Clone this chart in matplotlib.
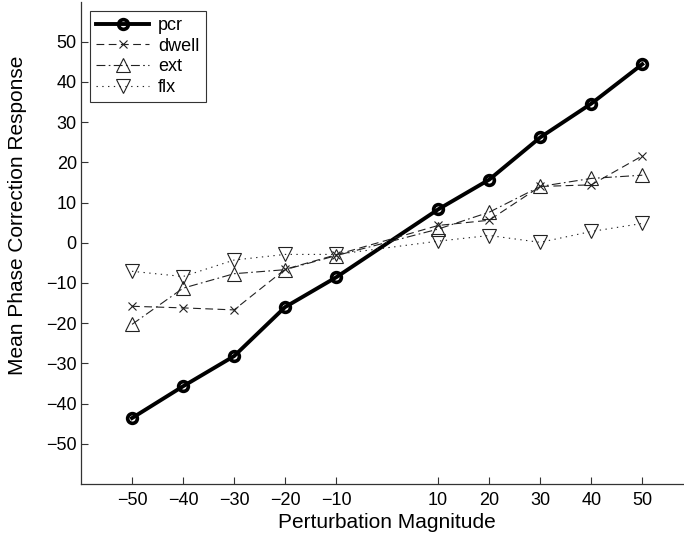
import matplotlib
matplotlib.use('Agg')
import matplotlib.pyplot as plt

plt.rcParams['font.family'] = ['Liberation Sans', 'DejaVu Sans']

# magnitudes de perturbación
magnitudes = [-50, -40, -30, -20, -10, 10, 20, 30, 40, 50]

# respuestas medias por condición
pcr = [-43.6, -35.7, -28.2, -16.0, -8.6, 8.3, 15.7, 26.2, 34.6, 44.4]
dwell = [-15.8, -16.2, -16.7, -6.6, -3.0, 4.3, 5.6, 14.0, 14.4, 21.6]
ext = [-20.3, -11.3, -7.7, -6.7, -3.2, 3.4, 7.6, 14.0, 16.0, 16.8]
flx = [-7.1, -8.4, -4.3, -2.9, -2.9, 0.4, 1.8, 0.1, 2.8, 4.8]

xticks = [-50, -40, -30, -20, -10, 10, 20, 30, 40, 50]
yticks = [-50, -40, -30, -20, -10, 0, 10, 20, 30, 40, 50]

fig = plt.figure(figsize=(6.84, 5.37), dpi=100)
ax = fig.add_axes([0.1184, 0.0987, 0.8952, 0.8985])

ax.plot(magnitudes, pcr, '-o', color='black', linewidth=2.8, markersize=7,
        markeredgewidth=2.6, markerfacecolor='none', label='pcr')
ax.plot(magnitudes, dwell, linestyle=(0, (7, 4)), marker='x', color='#222222',
        linewidth=0.8, markersize=6, markeredgewidth=0.8, label='dwell')
ax.plot(magnitudes, ext, linestyle=(0, (8, 3, 1.5, 3)), marker='^', color='#222222',
        linewidth=0.8, markersize=10, markeredgewidth=0.8, markerfacecolor='none', label='ext')
ax.plot(magnitudes, flx, linestyle=(0, (1.2, 4)), marker='v', color='#222222',
        linewidth=0.8, markersize=10, markeredgewidth=0.8, markerfacecolor='none', label='flx')

ax.set_xlim(-60, 60)
ax.set_ylim(-60, 60)
ax.set_xticks(xticks)
ax.set_yticks(yticks)
ax.set_xticklabels(['\u2212' + str(-t) if t < 0 else str(t) for t in xticks])
ax.set_yticklabels(['\u2212' + str(-t) if t < 0 else str(t) for t in yticks])
ax.tick_params(direction='in', length=5, width=0.8, color='#333333', labelsize=13)
ax.tick_params(axis='x', pad=6)
ax.tick_params(axis='y', pad=3)
ax.spines['top'].set_visible(False)
ax.spines['right'].set_visible(False)
for s in ['left', 'bottom']:
    ax.spines[s].set_color('#333333')
    ax.spines[s].set_linewidth(0.9)

ax.set_xlabel('Perturbation Magnitude', fontsize=15, labelpad=3)
ax.set_ylabel('Mean Phase Correction Response', fontsize=15)
ax.yaxis.set_label_coords(-0.088, 0.5575)

leg = ax.legend(loc='upper left', bbox_to_anchor=(0.015, 0.981), borderaxespad=0,
                fontsize=13, fancybox=False, framealpha=1, edgecolor='#333333',
                handlelength=2.9, handletextpad=0.5, borderpad=0.35, labelspacing=0.2)
leg.get_frame().set_linewidth(0.8)

fig.savefig('out.png', dpi=100)
